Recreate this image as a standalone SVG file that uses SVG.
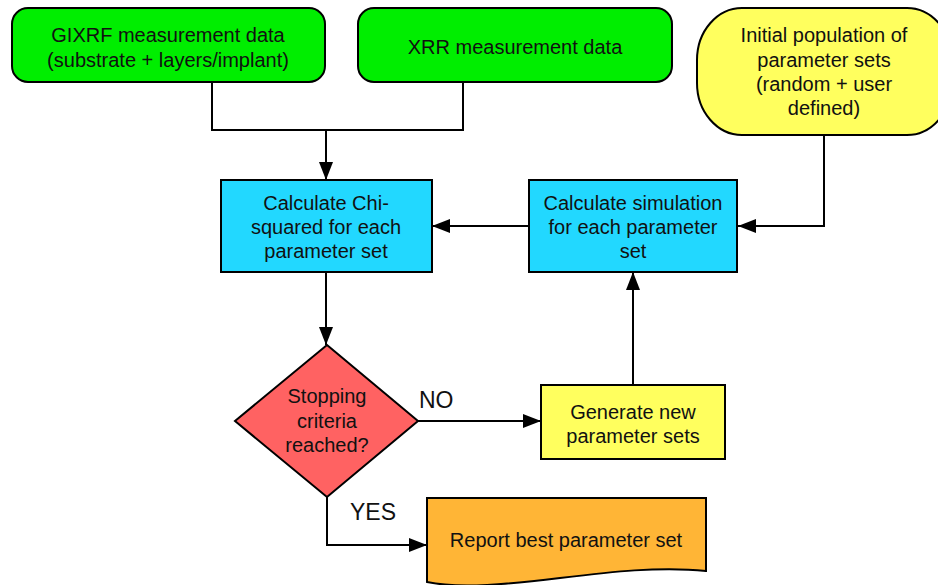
<svg xmlns="http://www.w3.org/2000/svg" width="938" height="585" viewBox="0 0 938 585">
  <defs>
    <marker id="arrow" viewBox="0 0 18 14" refX="18" refY="7" markerWidth="18" markerHeight="14" markerUnits="userSpaceOnUse" orient="auto">
      <path d="M0,0 L18,7 L0,14 Z" fill="#000"/>
    </marker>
  </defs>
  <style>
    .shape { stroke: #000; stroke-width: 2; }
    .data { fill: #00ee00; }
    .proc { fill: #22d8ff; }
    .gen { fill: #ffff5e; }
    .dec { fill: #ff6262; }
    .out { fill: #ffb536; }
    .lbl { font-family: "Liberation Sans", Arial, sans-serif; font-size: 20px; fill: #111; text-anchor: middle; }
    .edge { font-family: "Liberation Sans", Arial, sans-serif; font-size: 23px; fill: #111; }
    .conn { fill: none; stroke: #000; stroke-width: 2; }
  </style>

  <rect width="938" height="585" fill="#fff"/>

  <g id="connectors">
    <path class="conn" d="M212,82 V130 H463 V82"/>
    <path class="conn" d="M326,130 V180" marker-end="url(#arrow)"/>
    <path class="conn" d="M824,135 V226 H738" marker-end="url(#arrow)"/>
    <path class="conn" d="M529,226 H432" marker-end="url(#arrow)"/>
    <path class="conn" d="M326,272 V345" marker-end="url(#arrow)"/>
    <path class="conn" d="M418,421 H541" marker-end="url(#arrow)"/>
    <path class="conn" d="M633,385 V272" marker-end="url(#arrow)"/>
    <path class="conn" d="M327,497 V545 H427" marker-end="url(#arrow)"/>
    <text class="edge" x="419" y="408">NO</text>
    <text class="edge" x="350" y="520">YES</text>
  </g>

  <g id="gixrf-data">
    <rect class="shape data" x="12" y="8" width="313" height="74" rx="16" ry="16"/>
    <text class="lbl" x="168" y="42">GIXRF measurement data</text>
    <text class="lbl" x="168" y="67">(substrate + layers/implant)</text>
  </g>

  <g id="xrr-data">
    <rect class="shape data" x="358" y="8" width="314" height="74" rx="16" ry="16"/>
    <text class="lbl" x="515" y="54">XRR measurement data</text>
  </g>

  <g id="initial-population">
    <rect class="shape gen" x="697" y="8" width="255" height="127" rx="45" ry="52"/>
    <text class="lbl" x="824" y="42">Initial population of</text>
    <text class="lbl" x="824" y="67">parameter sets</text>
    <text class="lbl" x="824" y="91">(random + user</text>
    <text class="lbl" x="824" y="115">defined)</text>
  </g>

  <g id="chi-squared">
    <rect class="shape proc" x="221" y="180" width="211" height="92"/>
    <text class="lbl" x="326" y="210">Calculate Chi-</text>
    <text class="lbl" x="326" y="234">squared for each</text>
    <text class="lbl" x="326" y="258">parameter set</text>
  </g>

  <g id="simulation">
    <rect class="shape proc" x="529" y="180" width="208" height="92"/>
    <text class="lbl" x="633" y="210">Calculate simulation</text>
    <text class="lbl" x="633" y="234">for each parameter</text>
    <text class="lbl" x="633" y="258">set</text>
  </g>

  <g id="stopping-criteria">
    <polygon class="shape dec" points="327,345 418,421 327,497 235,421"/>
    <text class="lbl" x="327" y="403">Stopping</text>
    <text class="lbl" x="327" y="428">criteria</text>
    <text class="lbl" x="327" y="452">reached?</text>
  </g>

  <g id="generate-new">
    <rect class="shape gen" x="541" y="385" width="184" height="74"/>
    <text class="lbl" x="633" y="419">Generate new</text>
    <text class="lbl" x="633" y="443">parameter sets</text>
  </g>

  <g id="report-best">
    <path class="shape out" d="M427,498 H706 V571 C660,566 610,572 560,578 C510,584 460,589 427,582 Z"/>
    <text class="lbl" x="566" y="547">Report best parameter set</text>
  </g>
</svg>
